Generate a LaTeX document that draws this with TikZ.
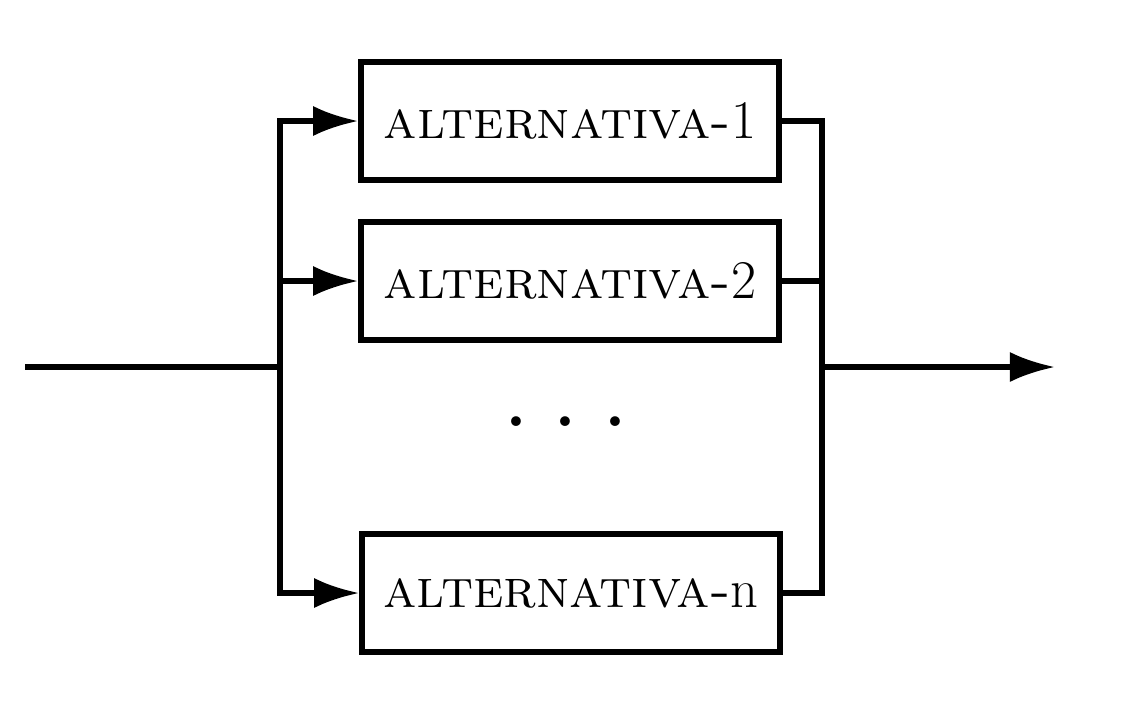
\documentclass[tikz,border=0pt]{standalone}
\usetikzlibrary{arrows.meta}
\begin{document}
\begin{tikzpicture}[x=0.01cm,y=-0.01cm,line width=1.5pt,
  alt/.style={draw,minimum width=4.18cm,minimum height=1.18cm,inner sep=0pt,font=\fontsize{15.5}{17}\selectfont},
  fleche/.style={-{Latex[length=4.5mm,width=3mm]}}]
\useasboundingbox (0,0) rectangle (1121,702);

% Alternatives
\node[alt] (alt1) at (570,121) {\textsc{alternativa-}1};
\node[alt] (alt2) at (570,281) {\textsc{alternativa-}2};
\node[alt] (altn) at (571,593) {\textsc{alternativa-}n};
\node[font=\fontsize{34}{34}\selectfont] (dots) at (566,422) {.\,.\,.};

% Entree / sortie
\coordinate (in) at (25,367);
\coordinate (split) at (280,367);
\coordinate (join) at (822,367);
\coordinate (out) at (1055,367);

\draw (in) -- (split);
\draw[fleche] (split) |- (alt1.west);
\draw[fleche] (split) |- (alt2.west);
\draw[fleche] (split) |- (altn.west);

\draw (alt1.east) -| (join);
\draw (alt2.east) -| (join);
\draw (altn.east) -| (join);
\draw[fleche] (join) -- (out);

\end{tikzpicture}
\end{document}
